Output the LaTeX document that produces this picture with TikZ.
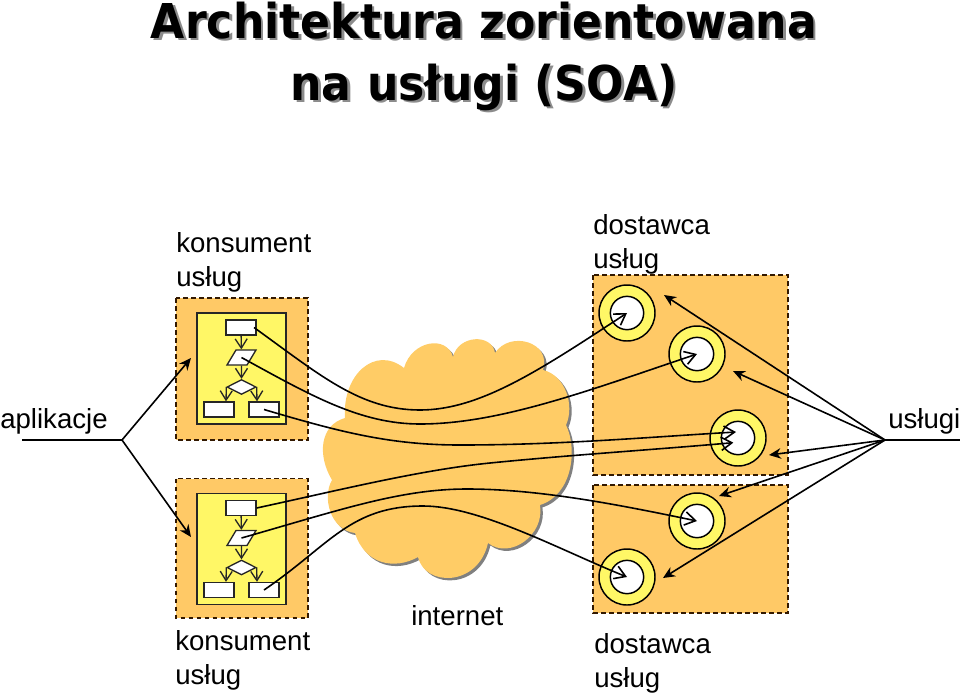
\documentclass[tikz,border=0pt]{standalone}
\usepackage{fontspec}
\setmainfont{Liberation Sans}
\newfontfamily\titlefont[FakeStretch=0.92]{DejaVu Sans}
\usetikzlibrary{arrows.meta, calc, shapes.geometric, shadows}

\begin{document}
\begin{tikzpicture}[
	x=0.75pt, y=-0.75pt,
	% Area styles
	area/.style={draw=black!80!orange, fill=orgfill, dash pattern=on 3.5pt off 2.5pt, line width=1.1pt},
	panel/.style={draw=black!85, fill=yellow!60!white, line width=1.2pt, minimum width=66.75pt, minimum height=83.25pt, inner sep=0pt},
	% Flowchart styles
	stepbox/.style={draw=black!85, fill=white, line width=1pt, minimum width=22.5pt, minimum height=11.25pt, inner sep=0pt},
	stepdata/.style={stepbox, minimum width=15pt, xslant=0.6, transform shape},
	stepif/.style={stepbox, diamond, aspect=2, minimum width=21.75pt},
	flow/.style={draw=black!85, line width=1pt, -{Straight Barb[length=7pt, width=9pt]}},
	% Service styles
	srvout/.style={circle, draw=black, fill=yellow!60!white, line width=1.1pt, minimum size=42pt, inner sep=0pt},
	srvin/.style={circle, draw=black, fill=white, line width=1.1pt, minimum size=25pt, inner sep=0pt},
	% Line styles
	conn/.style={draw=black, line width=1.2pt},
	call/.style={conn, -{Straight Barb[length=8pt, width=10pt]}},
	note/.style={conn, -{Stealth[length=9pt, width=8pt]}},
	% Text styles
	lbl/.style={font=\fontsize{20.7}{25.5}\selectfont, align=left, inner sep=0pt},
	mainTitle/.style={font=\titlefont\bfseries\fontsize{36}{46.5}\selectfont, align=center, inner sep=0pt, anchor=base}
	]
	\definecolor{orgfill}{HTML}{FFC966}
	\useasboundingbox (0,0) rectangle (960,693);
	
	% ==============================================================================
	% TITLE
	% ==============================================================================
	\node[mainTitle, text=black!45] (titleShadow) at (486.5,102.5) {Architektura zorientowana \\ na usługi (SOA)};
	\node[mainTitle] (title) at (484,100) {Architektura zorientowana \\ na usługi (SOA)};
	
	% ==============================================================================
	% INTERNET
	% ==============================================================================
	\path[fill={rgb,255:red,255;green,204;blue,102}, drop shadow={shadow xshift=1.8pt, shadow yshift=-1.8pt, opacity=1, fill=black!50}]
		(404,368) .. controls (412,340) and (447,335) .. (453,357)
		.. controls (458,335) and (492,333) .. (495,353)
		.. controls (510,330) and (552,342) .. (543,370)
		.. controls (565,375) and (575,405) .. (566,425)
		.. controls (578,450) and (572,495) .. (540,505)
		.. controls (545,535) and (510,560) .. (488,543)
		.. controls (478,587) and (425,587) .. (418,557)
		.. controls (395,570) and (365,565) .. (355,533)
		.. controls (330,530) and (322,497) .. (332,480)
		.. controls (317,455) and (320,425) .. (345,418)
		.. controls (342,375) and (375,345) .. (404,368) -- cycle;
	
	% ==============================================================================
	% CONSUMERS
	% ==============================================================================
	\foreach \i/\dy/\low in {1/0/440, 2/180.5/437.5} {
		\begin{scope}[yshift=-\dy*0.75pt]
			\draw[area] (176,298) rectangle (308,\low);
			\node[panel] (P\i) at (241.5,368.5) {};
			\node[stepbox] (A\i) at (241,327.5) {};
			\node[stepdata] (B\i) at (241.5,357.5) {};
			\node[stepif] (D\i) at (241.5,387) {};
			\node[stepbox] (L\i) at (219,409.5) {};
			\node[stepbox] (R\i) at (264,409.5) {};
			\draw[flow] (A\i) -- (B\i);
			\draw[flow] (B\i) -- (D\i);
			\draw[flow] (D\i.west) -- (L\i.north -| 226,0);
			\draw[flow] (D\i.east) -- (R\i.north -| 257,0);
		\end{scope}
	}
	
	% ==============================================================================
	% PROVIDERS
	% ==============================================================================
	\draw[area] (593,275) rectangle (788,475);
	\draw[area] (593,485) rectangle (788,613);
	\foreach \name/\pos in {S1/{(627,313)}, S2/{(697,354)}, S3/{(738,438)}, S4/{(697,521)}, S5/{(627,577)}} {
		\node[srvout] at \pos {};
		\node[srvin] (\name) at \pos {};
	}
	
	% ==============================================================================
	% CALLS THROUGH THE INTERNET
	% ==============================================================================
	\draw[call] ([xshift=-2pt]A1.east) .. controls (320,375) and (360,410) .. (420,410) .. controls (480,410) and (540,370) .. (S1.center);
	\draw[call] (B1.center) .. controls (310,395) and (360,424) .. (420,424) .. controls (500,424) and (590,390) .. (S2.center);
	\draw[call] (R1.center) .. controls (340,432) and (390,445) .. (460,445) .. controls (560,445) and (650,437) .. ([xshift=-1.5pt, yshift=4.5pt]S3.center);
	\draw[call] (A2.east) .. controls (340,490) and (420,470) .. (490,463) .. controls (570,455) and (650,450) .. ([xshift=-3.5pt, yshift=-3.5pt]S3.center);
	\draw[call] (B2.center) .. controls (340,510) and (400,489) .. (467,489) .. controls (540,489) and (620,505) .. (S4.center);
	\draw[call] (R2.center) .. controls (330,545) and (350,506) .. (423,506) .. controls (480,506) and (560,550) .. (S5.center);
	
	% ==============================================================================
	% LABEL LINES
	% ==============================================================================
	\coordinate (appFrom) at (22,440);
	\coordinate (appFork) at (122,440);
	\coordinate (appTip1) at (191,358);
	\coordinate (appTip2) at (191,537);
	\draw[conn] (appFrom) -- (appFork);
	\draw[note] (appFork) -- (appTip1);
	\draw[note] (appFork) -- (appTip2);
	
	\coordinate (srvEnd) at (960,440);
	\coordinate (srvFork) at (885,440);
	\coordinate (srvTip1) at (664,295);
	\coordinate (srvTip2) at (733,371);
	\coordinate (srvTip3) at (769,455);
	\coordinate (srvTip4) at (719,496);
	\coordinate (srvTip5) at (663,578);
	\draw[conn] (srvEnd) -- (srvFork);
	\foreach \i in {1,...,5} {
		\draw[note] (srvFork) -- (srvTip\i);
	}
	
	% ==============================================================================
	% LABELS
	% ==============================================================================
	\node[lbl, anchor=base west] (cons1) at (176,286) {konsument \\ usług};
	\node[lbl, anchor=base west] (cons2) at (175,684) {konsument \\ usług};
	\node[lbl, anchor=base west] (prov1) at (593,268) {dostawca \\ usług};
	\node[lbl, anchor=base west] (prov2) at (594,687) {dostawca \\ usług};
	\node[lbl, anchor=base west] (apps) at (0,428) {aplikacje};
	\node[lbl, anchor=base west] (srvs) at (888,428) {usługi};
	\node[lbl, anchor=base west] (net) at (411,625) {internet};
	
\end{tikzpicture}
\end{document}
